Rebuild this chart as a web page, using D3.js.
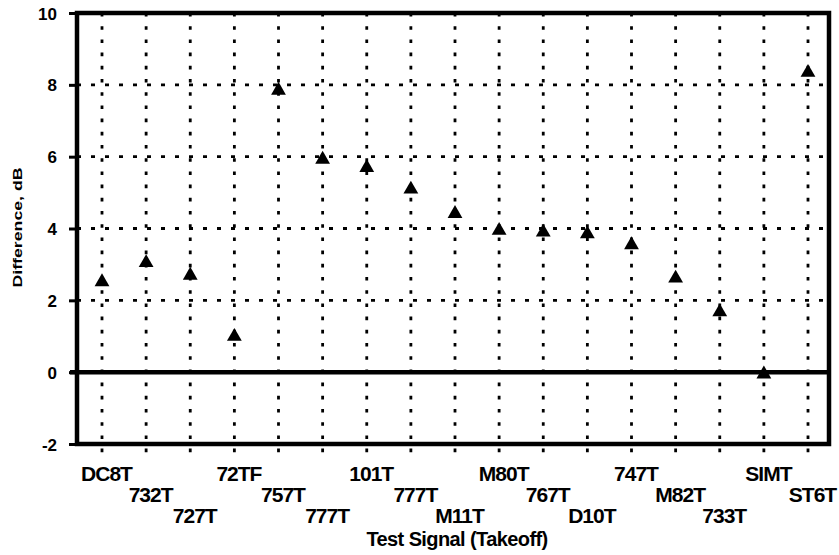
<!DOCTYPE html>
<html>
<head>
<meta charset="utf-8">
<script src="https://cdn.jsdelivr.net/npm/d3@7"></script>
<style>
  html, body { margin: 0; padding: 0; background: #fff; }
  svg { display: block; }
  text { font-family: "Liberation Sans", Arial, Helvetica, sans-serif; font-weight: bold; fill: #000; }
</style>
</head>
<body>
<svg id="chart" width="839" height="555"></svg>
<script>
// Test signals (takeoff) and measured difference in dB
const signals = ["DC8T", "732T", "727T", "72TF", "757T", "777T", "101T", "777T", "M11T",
                 "M80T", "767T", "D10T", "747T", "M82T", "733T", "SIMT", "ST6T"];
const differenceDb = [2.57, 3.1, 2.75, 1.05, 7.9, 5.98, 5.75, 5.15, 4.47,
                      4.0, 3.95, 3.9, 3.6, 2.67, 1.73, 0.0, 8.4];
const yTicks = [-2, 0, 2, 4, 6, 8, 10];
const yGrid = [2, 4, 6, 8];
const xTitle = "Test Signal (Takeoff)";
const yTitle = "Difference, dB";

const svg = d3.select("#chart");
const frame = { left: 77, right: 829, top: 13, bottom: 444 };

const idx = d3.range(signals.length);
const x = d3.scalePoint().domain(idx).range([102, 808]);
const y = d3.scaleLinear().domain([-2, 10]).range([frame.bottom, frame.top]);

// vertical dotted grid at every signal, continuing as a short tick below the frame
svg.append("g").selectAll("line").data(idx).join("line")
  .attr("x1", d => x(d)).attr("x2", d => x(d))
  .attr("y1", frame.top).attr("y2", frame.bottom + 10)
  .attr("stroke", "#000").attr("stroke-width", 2.8)
  .attr("stroke-dasharray", "3.6,9.6");

// horizontal dotted grid
svg.append("g").selectAll("line").data(yGrid).join("line")
  .attr("x1", frame.left).attr("x2", frame.right)
  .attr("y1", d => y(d)).attr("y2", d => y(d))
  .attr("stroke", "#000").attr("stroke-width", 2.8)
  .attr("stroke-dasharray", "4,10");

// left axis with ticks and labels (plain hyphen for negatives)
const yAxis = d3.axisLeft(y).tickValues(yTicks).tickSize(8).tickPadding(12).tickFormat(d => String(d));
const gy = svg.append("g").attr("transform", `translate(${frame.left},0)`).call(yAxis);
gy.select(".domain").remove();
gy.selectAll(".tick line").attr("stroke", "#000").attr("stroke-width", 3);
gy.selectAll(".tick text").style("font-size", "17px").attr("dy", "0.36em");

// bottom axis labels, staggered over three rows
const xAxis = d3.axisBottom(x).tickSize(0).tickFormat(d => signals[d]);
const gx = svg.append("g").attr("transform", `translate(0,${frame.bottom})`).call(xAxis);
gx.select(".domain").remove();
gx.selectAll(".tick text")
  .style("font-size", "21px")
  .style("letter-spacing", "-1px")
  .attr("dx", 4)
  .attr("dy", null)
  .attr("y", d => 37 + (d % 3) * 21);

// frame
svg.append("rect")
  .attr("x", frame.left).attr("y", frame.top)
  .attr("width", frame.right - frame.left).attr("height", frame.bottom - frame.top)
  .attr("fill", "none").attr("stroke", "#000").attr("stroke-width", 4.5);

// zero reference line
svg.append("line")
  .attr("x1", frame.left - 7).attr("x2", frame.right)
  .attr("y1", y(0)).attr("y2", y(0))
  .attr("stroke", "#000").attr("stroke-width", 4.5);

// triangle markers
const tri = d3.symbol().type(d3.symbolTriangle).size(95);
svg.append("g").selectAll("path").data(idx).join("path")
  .attr("d", tri)
  .attr("transform", d => `translate(${x(d)},${y(differenceDb[d]) + 2})`)
  .attr("fill", "#000");

// axis titles
svg.append("text")
  .attr("x", (frame.left + frame.right) / 2 + 4)
  .attr("y", 546)
  .attr("text-anchor", "middle")
  .style("font-size", "20px")
  .style("letter-spacing", "-0.6px")
  .text(xTitle);

svg.append("text")
  .attr("transform", `translate(22,${(frame.top + frame.bottom) / 2 - 1}) rotate(-90)`)
  .attr("text-anchor", "middle")
  .attr("textLength", 120)
  .attr("lengthAdjust", "spacingAndGlyphs")
  .style("font-size", "13px")
  .text(yTitle);
</script>
</body>
</html>
